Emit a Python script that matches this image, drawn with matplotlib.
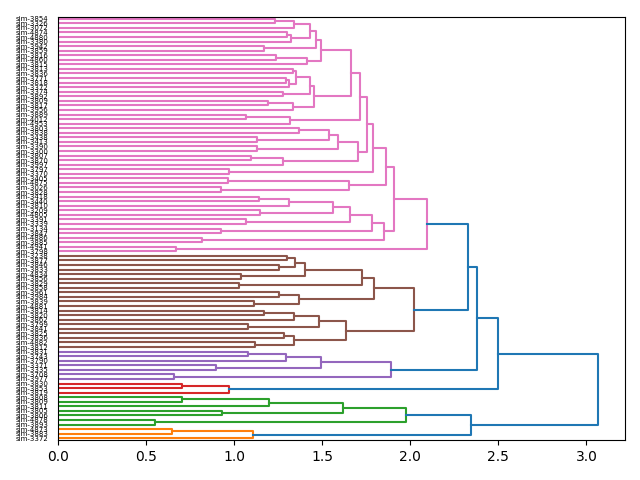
import matplotlib
matplotlib.use("Agg")
import matplotlib.pyplot as plt

# Leaf labels, listed top to bottom as they appear in the chart
leaf_labels = [
    "sim-3854", "sim-3326", "sim-3072", "sim-4874", "sim-4880", "sim-3380", "sim-3942", "sim-3859",
    "sim-3816", "sim-4860", "sim-3815", "sim-3813", "sim-3836", "sim-3771", "sim-3818", "sim-3372",
    "sim-3374", "sim-3892", "sim-3809", "sim-3817", "sim-3956", "sim-3889", "sim-4012", "sim-4953",
    "sim-3803", "sim-3838", "sim-3438", "sim-3413", "sim-3390", "sim-3300", "sim-3807", "sim-3870",
    "sim-3997", "sim-3797", "sim-3370", "sim-3405", "sim-4875", "sim-3026", "sim-3828", "sim-3418",
    "sim-3440", "sim-3810", "sim-3209", "sim-4805", "sim-3391", "sim-3339", "sim-3134", "sim-3847",
    "sim-4886", "sim-3885", "sim-4941", "sim-3798", "sim-3238", "sim-3877", "sim-3846", "sim-3833",
    "sim-4834", "sim-3856", "sim-3829", "sim-3858", "sim-3961", "sim-3984", "sim-3839", "sim-4881",
    "sim-3814", "sim-3820", "sim-3862", "sim-3799", "sim-3841", "sim-3825", "sim-3836", "sim-4882",
    "sim-3812", "sim-3831", "sim-3743", "sim-3790", "sim-3371", "sim-3335", "sim-3708", "sim-3977",
    "sim-3830", "sim-3853", "sim-3819", "sim-3808", "sim-3809", "sim-3811", "sim-3805", "sim-3806",
    "sim-4878", "sim-3893", "sim-4873", "sim-3883", "sim-3372",
]

# Merges: (name, child_a, child_b, height); ints refer to leaf index (top to bottom)
pink_merges = [
    ("A", 0, 1, 1.233), ("B", "A", 2, 1.341), ("C", 3, 4, 1.299), ("D", "C", 5, 1.322),
    ("E", "B", "D", 1.432), ("F", 6, 7, 1.170), ("G", "E", "F", 1.464), ("H", 8, 9, 1.239),
    ("I", "H", 10, 1.413), ("J", "G", "I", 1.494), ("M", 11, 12, 1.337), ("N", 13, 14, 1.294),
    ("O", "N", 15, 1.313), ("P", "M", "O", 1.352), ("P2", 16, 17, 1.277), ("Q", "P", "P2", 1.428),
    ("R", 18, 19, 1.195), ("U", "R", 20, 1.335), ("T", "Q", "U", 1.451), ("K", "J", "T", 1.663),
    ("X0", 21, 22, 1.066), ("X1", "X0", 23, 1.318), ("Y1", "K", "X1", 1.716),
    ("Z1a0", 24, 25, 1.366), ("Z1a1", 26, 27, 1.132), ("Z1a", "Z1a0", "Z1a1", 1.540),
    ("Z1b", 28, 29, 1.132), ("Z1", "Z1a", "Z1b", 1.591), ("Z2a", 30, 31, 1.097),
    ("Z2", "Z2a", 32, 1.275), ("Z", "Z1", "Z2", 1.705), ("AA", "Y1", "Z", 1.754),
    ("AB", 33, 34, 0.973), ("AC", "AA", "AB", 1.788), ("AF", 35, 36, 0.968), ("AG", 37, 38, 0.928),
    ("AE", "AF", "AG", 1.653), ("AD", "AC", "AE", 1.864), ("AN0", 39, 40, 1.142),
    ("AN1", "AN0", 41, 1.313), ("AN2", 42, 43, 1.148), ("AN", "AN1", "AN2", 1.561),
    ("AO", 44, 45, 1.068), ("AL", "AN", "AO", 1.659), ("AM", 46, 47, 0.928),
    ("AJ", "AL", "AM", 1.784), ("AK", 48, 49, 0.820), ("AI", "AJ", "AK", 1.852),
    ("AH", "AD", "AI", 1.905), ("PL", 50, 51, 0.670), ("PINK", "AH", "PL", 2.097),
]
brown_merges = [
    ("b1", 52, 53, 1.303), ("b2", 54, 55, 1.256), ("b3", "b1", "b2", 1.345), ("b4", 56, 57, 1.040),
    ("b5", "b3", "b4", 1.403), ("b6", 58, 59, 1.030), ("b7", "b5", "b6", 1.725),
    ("b8a", 60, 61, 1.256), ("b8b", 62, 63, 1.115), ("b8", "b8a", "b8b", 1.371),
    ("b9", "b7", "b8", 1.795), ("b10a", 64, 65, 1.167), ("b10b", "b10a", 66, 1.341),
    ("b10c", 67, 68, 1.081), ("b10d", "b10b", "b10c", 1.484), ("b11a", 69, 70, 1.284),
    ("b11b", 71, 72, 1.121), ("b11", "b11a", "b11b", 1.341), ("b12", "b10d", "b11", 1.635),
    ("BROWN", "b9", "b12", 2.023),
]
purple_merges = [
    ("p1", 73, 74, 1.076), ("p2", "p1", 75, 1.295), ("p3", 76, 77, 0.898),
    ("p4", "p2", "p3", 1.494), ("p5", 78, 79, 0.661), ("PURPLE", "p4", "p5", 1.890),
]
red_merges = [("r1", 80, 81, 0.704), ("RED", "r1", 82, 0.970)]
green_merges = [
    ("g1", 83, 84, 0.704), ("g2", "g1", 85, 1.198), ("g3", 86, 87, 0.932),
    ("g4", "g2", "g3", 1.618), ("g5", 88, 89, 0.551), ("GREEN", "g4", "g5", 1.977),
]
orange_merges = [("o1", 90, 91, 0.646), ("ORANGE", "o1", 92, 1.108)]
top_merges = [
    ("PB", "PINK", "BROWN", 2.330), ("PBP", "PB", "PURPLE", 2.381), ("PBPR", "PBP", "RED", 2.500),
    ("GO", "GREEN", "ORANGE", 2.347), ("ROOT", "PBPR", "GO", 3.066),
]

merges = pink_merges + brown_merges + purple_merges + red_merges + green_merges + orange_merges + top_merges

n = len(leaf_labels)
max_h = max(m[3] for m in merges)
threshold = 0.7 * max_h

# positions (scipy style: leaves at 5, 15, ..., first leaf in list at the top)
pos = {i: (10 * (n - 1 - i) + 5, 0.0) for i in range(n)}
leaves_of = {i: [i] for i in range(n)}
children = {}
parent_h = {}
for name, a, b, h in merges:
    ya, ha = pos[a]
    yb, hb = pos[b]
    pos[name] = ((ya + yb) / 2.0, h)
    leaves_of[name] = leaves_of[a] + leaves_of[b]
    children[name] = (a, b)
    parent_h[a] = h
    parent_h[b] = h

# color clusters below threshold, numbered from the bottom leaf upward
cluster_roots = [name for name, a, b, h in merges if h < threshold and parent_h.get(name, 1e9) >= threshold]
cluster_roots.sort(key=lambda r: min(pos[l][0] for l in leaves_of[r]))
palette = ["C%d" % k for k in range(1, 10)]
color_of = {}

def paint(node, col):
    if node in children:
        color_of[node] = col
        for c in children[node]:
            paint(c, col)

for k, r in enumerate(cluster_roots):
    paint(r, palette[k % len(palette)])

fig = plt.figure(figsize=(6.4, 4.8), dpi=100)
ax = fig.add_subplot(111)
fig.subplots_adjust(left=0.0906, right=0.9766, top=0.9656, bottom=0.0823)

for name, a, b, h in merges:
    ya, ha = pos[a]
    yb, hb = pos[b]
    col = color_of.get(name, "C0")
    ax.plot([ha, h, h, hb], [ya, ya, yb, yb], color=col, lw=1.5)

ax.set_ylim(0, 10 * n)
ax.set_xlim(0, max_h * 1.05)
yt = [10 * (n - 1 - i) + 5 for i in range(n)]
ax.set_yticks(yt)
ax.set_yticklabels(leaf_labels, fontsize=5)
for line in ax.get_yticklines():
    line.set_visible(False)

fig.savefig("out.png", dpi=100)
